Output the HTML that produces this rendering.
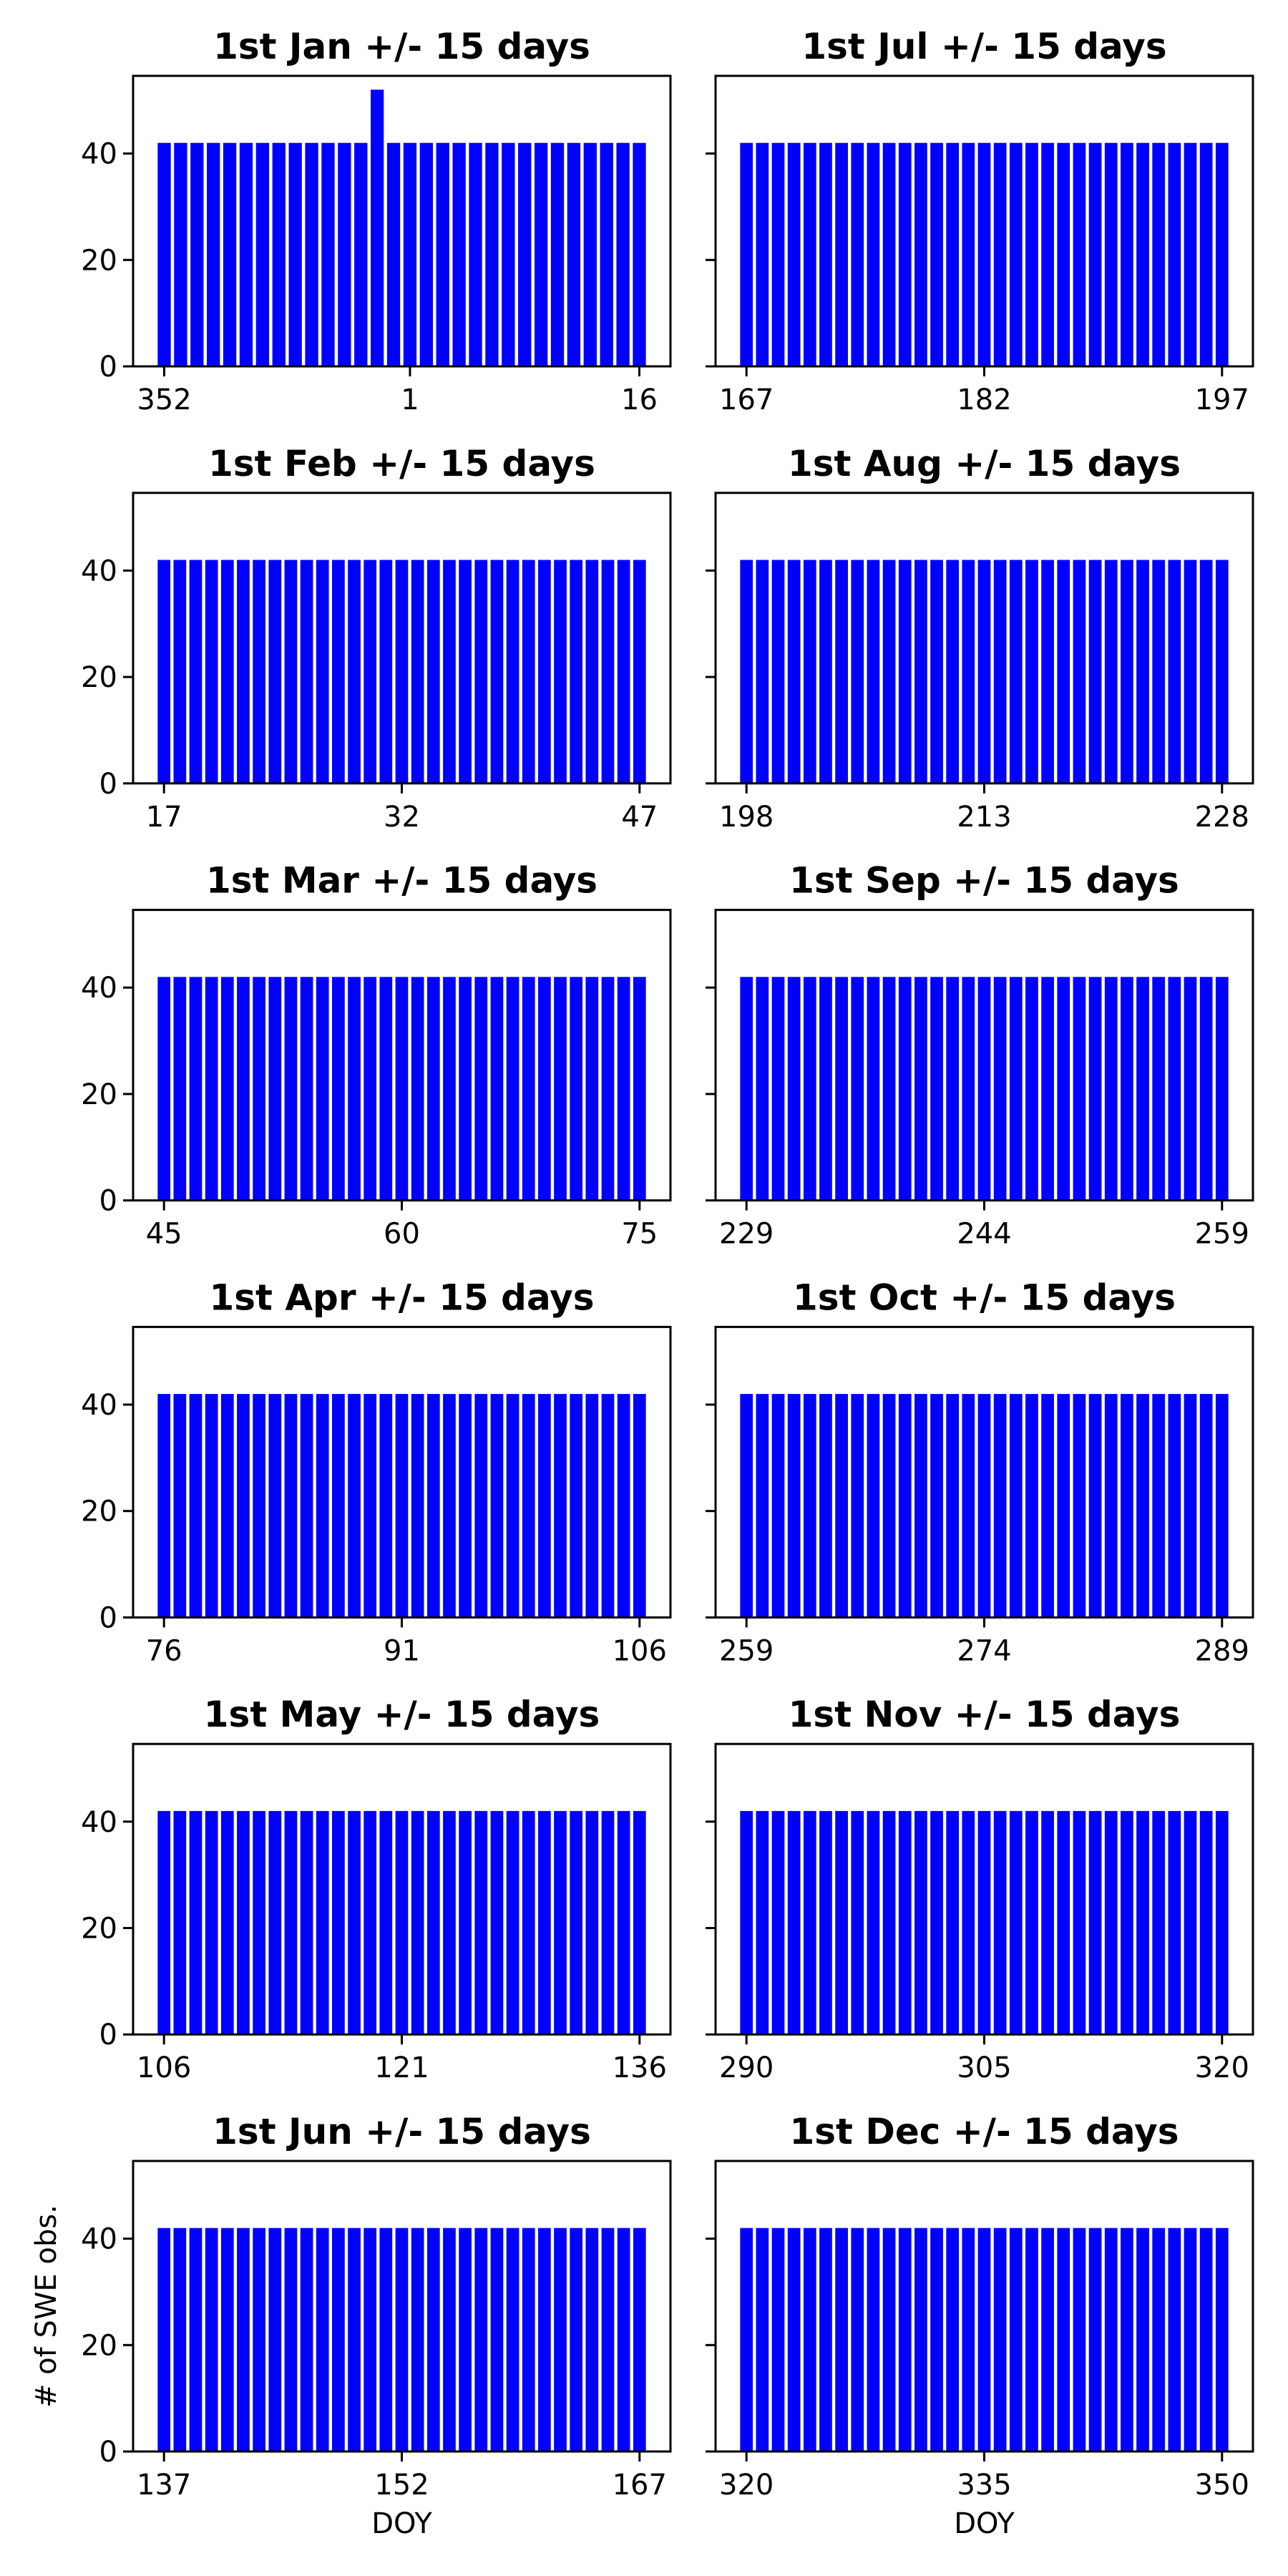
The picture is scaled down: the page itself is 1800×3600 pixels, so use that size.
<!DOCTYPE html>
<html><head><meta charset="utf-8"><style>
html,body{margin:0;padding:0;background:#fff;}
svg{display:block;font-family:"DejaVu Sans","Liberation Sans",sans-serif;}
</style></head><body>
<svg id="fig" width="1800" height="3600" viewBox="0 0 1800 3600" xmlns="http://www.w3.org/2000/svg"></svg>
<script>
const panelTitles = ["1st Jan +/- 15 days","1st Jul +/- 15 days","1st Feb +/- 15 days","1st Aug +/- 15 days","1st Mar +/- 15 days","1st Sep +/- 15 days","1st Apr +/- 15 days","1st Oct +/- 15 days","1st May +/- 15 days","1st Nov +/- 15 days","1st Jun +/- 15 days","1st Dec +/- 15 days"];
const tickLabels = [["352","1","16"],["167","182","197"],["17","32","47"],["198","213","228"],["45","60","75"],["229","244","259"],["76","91","106"],["259","274","289"],["106","121","136"],["290","305","320"],["137","152","167"],["320","335","350"]];
const tickIndex = [[0,15,29],[0,15,30],[0,15,30],[0,15,30],[0,15,30],[0,15,30],[0,15,30],[0,15,30],[0,15,30],[0,15,30],[0,15,30],[0,15,30]];
const yTicks = [0,20,40];
const counts = [
[42,42,42,42,42,42,42,42,42,42,42,42,42,52,42,42,42,42,42,42,42,42,42,42,42,42,42,42,42,42],
[42,42,42,42,42,42,42,42,42,42,42,42,42,42,42,42,42,42,42,42,42,42,42,42,42,42,42,42,42,42,42],
[42,42,42,42,42,42,42,42,42,42,42,42,42,42,42,42,42,42,42,42,42,42,42,42,42,42,42,42,42,42,42],
[42,42,42,42,42,42,42,42,42,42,42,42,42,42,42,42,42,42,42,42,42,42,42,42,42,42,42,42,42,42,42],
[42,42,42,42,42,42,42,42,42,42,42,42,42,42,42,42,42,42,42,42,42,42,42,42,42,42,42,42,42,42,42],
[42,42,42,42,42,42,42,42,42,42,42,42,42,42,42,42,42,42,42,42,42,42,42,42,42,42,42,42,42,42,42],
[42,42,42,42,42,42,42,42,42,42,42,42,42,42,42,42,42,42,42,42,42,42,42,42,42,42,42,42,42,42,42],
[42,42,42,42,42,42,42,42,42,42,42,42,42,42,42,42,42,42,42,42,42,42,42,42,42,42,42,42,42,42,42],
[42,42,42,42,42,42,42,42,42,42,42,42,42,42,42,42,42,42,42,42,42,42,42,42,42,42,42,42,42,42,42],
[42,42,42,42,42,42,42,42,42,42,42,42,42,42,42,42,42,42,42,42,42,42,42,42,42,42,42,42,42,42,42],
[42,42,42,42,42,42,42,42,42,42,42,42,42,42,42,42,42,42,42,42,42,42,42,42,42,42,42,42,42,42,42],
[42,42,42,42,42,42,42,42,42,42,42,42,42,42,42,42,42,42,42,42,42,42,42,42,42,42,42,42,42,42,42]
];

const NS = "http://www.w3.org/2000/svg";
const svg = document.getElementById("fig");
function mk(tag, attrs, parent) {
  const e = document.createElementNS(NS, tag);
  for (const k in attrs) e.setAttribute(k, attrs[k]);
  (parent || svg).appendChild(e);
  return e;
}
let gmax = 0;
counts.forEach(c => c.forEach(v => { if (v > gmax) gmax = v; }));
const yMax = gmax * 1.05;
const colX = [186, 1000], axW = 751;
const rowTop0 = 106, rowPitch = 582.8, axH = 406;

panelTitles.forEach((title, p) => {
  const col = p % 2, row = Math.floor(p / 2);
  const x0 = colX[col], y0 = rowTop0 + row * rowPitch, yb = y0 + axH;
  const vals = counts[p], n = vals.length;
  const marg = 0.05 * n;
  const xmin = -0.4 - marg, xmax = (n - 1) + 0.4 + marg;
  const sx = i => x0 + (i - xmin) / (xmax - xmin) * axW;
  const sy = v => yb - v / yMax * axH;
  const g = mk("g", {});
  
  
  const t = mk("text", {x: x0 + axW / 2, y: y0 - 24, "text-anchor": "middle", "font-size": 50, "font-weight": "bold"}, g);
  t.textContent = title;
  
  
  vals.forEach((v, i) => {
    const r = mk("rect", {x: sx(i - 0.4), y: sy(v), width: sx(i + 0.4) - sx(i - 0.4), height: yb - sy(v), fill: "#0000ff"}, g);
    
    
  });
  const frame = mk("rect", {x: x0, y: y0, width: axW, height: axH, fill: "none", stroke: "#000", "stroke-width": 3}, g);
  
  
  yTicks.forEach(v => {
    const tk = mk("line", {x1: x0 - 14, x2: x0, y1: sy(v), y2: sy(v), stroke: "#000", "stroke-width": 3}, g);
    
    
    if (col === 0) {
      const lt = mk("text", {x: x0 - 22, y: sy(v) + 14, "text-anchor": "end", "font-size": 40}, g);
      lt.textContent = v;
      
      
    }
  });
  tickIndex[p].forEach((i, k) => {
    const tk = mk("line", {x1: sx(i), x2: sx(i), y1: yb, y2: yb + 14, stroke: "#000", "stroke-width": 3}, g);
    
    
    const lt = mk("text", {x: sx(i), y: yb + 60, "text-anchor": "middle", "font-size": 40}, g);
    lt.textContent = tickLabels[p][k];
    
    
  });
  if (row === 5) {
    const xl = mk("text", {x: x0 + axW / 2, y: 3540, "text-anchor": "middle", "font-size": 40}, g);
    xl.textContent = "DOY";
    
    
    if (col === 0) {
      const yl = mk("text", {x: 0, y: 0, "text-anchor": "middle", "font-size": 40, transform: "translate(78," + (y0 + axH / 2) + ") rotate(-90)"}, g);
      yl.textContent = "# of SWE obs.";
      
      
    }
  }
});
</script>
</body></html>
